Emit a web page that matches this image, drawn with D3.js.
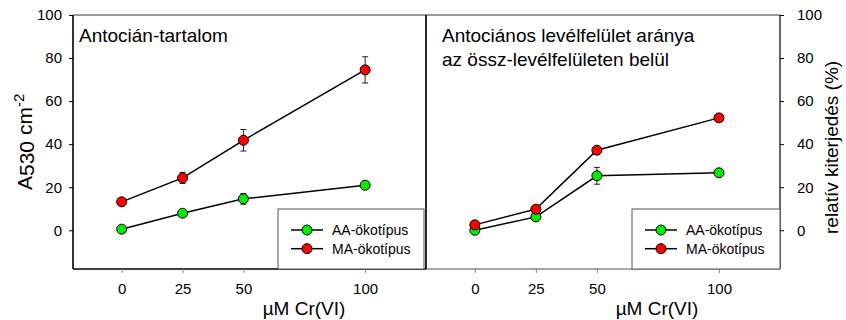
<!DOCTYPE html>
<html>
<head>
<meta charset="utf-8">
<script src="https://cdn.jsdelivr.net/npm/d3@7"></script>
<style>
  html, body { margin: 0; padding: 0; background: #fff; }
  svg { display: block; font-family: "Liberation Sans", Arial, sans-serif; }
</style>
</head>
<body>
<svg id="chart" width="846" height="320"></svg>
<script>
// Cr(VI) treatments (µM)
const doses = [0, 25, 50, 100];
const xTicks = [0, 25, 50, 100];
const yTicks = [0, 20, 40, 60, 80, 100];

// Anthocyanin content (A530 cm-2)
const contentAA = [0.5, 7.9, 14.6, 20.9];
const contentAAErr = [0.6, 0.8, 2.5, 0.8];
const contentMA = [13.2, 24.3, 41.8, 74.5];
const contentMAErr = [0.8, 2.6, 5.0, 6.1];

// Relative extent of anthocyanic leaf area (%)
const areaAA = [0.0, 6.2, 25.3, 26.7];
const areaAAErr = [0.5, 0.8, 3.9, 0.8];
const areaMA = [2.5, 9.8, 37.2, 52.2];
const areaMAErr = [0.5, 0.8, 1.0, 1.0];

const seriesNames = ["AA-ökotípus", "MA-ökotípus"];
const seriesColors = ["#00ee00", "#ff0000"];

const svg = d3.select("#chart");
const plotTop = 15, plotBottom = 269;
const y = d3.scaleLinear().domain([-18, 100]).range([plotBottom, plotTop]);

function panel(x0, x1, series, titleLines, opts) {
  const x = d3.scaleLinear().domain([-20, 125]).range([x0, x1]);
  const g = svg.append("g");

  // frame: grey top, coloured sides per panel
  g.append("line").attr("x1", x0).attr("x2", x1).attr("y1", plotTop).attr("y2", plotTop)
    .attr("stroke", "#7a7a7a").attr("stroke-width", 1.6);
  g.append("line").attr("x1", x0).attr("x2", x1).attr("y1", plotBottom).attr("y2", plotBottom)
    .attr("stroke", opts.bottomColor).attr("stroke-width", 1.4);
  g.append("line").attr("x1", x0).attr("x2", x0).attr("y1", plotTop).attr("y2", plotBottom)
    .attr("stroke", "#000").attr("stroke-width", opts.leftWidth);
  g.append("line").attr("x1", x1).attr("x2", x1).attr("y1", plotTop).attr("y2", plotBottom)
    .attr("stroke", "#000").attr("stroke-width", 1.2);

  // x ticks + labels
  const xa = g.append("g").attr("transform", `translate(0,${plotBottom})`)
    .call(d3.axisBottom(x).tickValues(xTicks).tickSize(4).tickPadding(10).tickFormat(d3.format("d")));
  xa.select(".domain").remove();
  xa.selectAll(".tick line").attr("stroke", "#888").attr("stroke-width", 1);
  xa.selectAll(".tick text").attr("font-size", 15).attr("fill", "#000")
    .attr("font-family", "Liberation Sans, Arial, sans-serif");

  g.append("text").attr("x", x0 + 231).attr("y", 315).attr("text-anchor", "middle")
    .attr("font-size", 19).text("µM Cr(VI)");

  // title
  titleLines.forEach((t, i) => {
    g.append("text").attr("x", opts.titleX).attr("y", 42 + i * 24)
      .attr("font-size", 19).text(t);
  });

  // legend box
  const lg = g.append("g");
  lg.append("rect").attr("x", opts.legendX).attr("y", 209)
    .attr("width", opts.legendW).attr("height", plotBottom - 209)
    .attr("fill", "#fff").attr("stroke", "#555").attr("stroke-width", 1);
  seriesNames.forEach((name, i) => {
    const ly = 230 + i * 18.7;
    const lx = opts.legendX + 13;
    lg.append("line").attr("x1", lx).attr("x2", lx + 32).attr("y1", ly).attr("y2", ly)
      .attr("stroke", "#000").attr("stroke-width", 1.5);
    lg.append("circle").attr("cx", lx + 16).attr("cy", ly).attr("r", 5)
      .attr("fill", seriesColors[i]).attr("stroke", "#000").attr("stroke-width", 1);
    lg.append("text").attr("x", lx + 41).attr("y", ly + 5).attr("font-size", 14).text(name);
  });

  // series
  const line = d3.line().x((d, i) => x(doses[i])).y(d => y(d));
  series.forEach((s, k) => {
    g.append("path").datum(s.values).attr("d", line)
      .attr("fill", "none").attr("stroke", "#000").attr("stroke-width", 1.5);
  });
  series.forEach((s, k) => {
    const eb = g.append("g").attr("stroke", "#222").attr("stroke-width", 1);
    s.values.forEach((v, i) => {
      const cx = x(doses[i]);
      const e = s.err[i];
      eb.append("line").attr("x1", cx).attr("x2", cx).attr("y1", y(v - e)).attr("y2", y(v + e));
      [v - e, v + e].forEach(w => {
        eb.append("line").attr("x1", cx - 3).attr("x2", cx + 3).attr("y1", y(w)).attr("y2", y(w));
      });
    });
    g.selectAll(null).data(s.values).enter().append("circle")
      .attr("cx", (d, i) => x(doses[i])).attr("cy", d => y(d)).attr("r", 5)
      .attr("fill", seriesColors[k]).attr("stroke", "#000").attr("stroke-width", 1);
  });
  return x;
}

panel(73, 426,
  [{ values: contentAA, err: contentAAErr }, { values: contentMA, err: contentMAErr }],
  ["Antocián-tartalom"],
  { bottomColor: "#000", leftWidth: 1.6, titleX: 79, legendX: 278, legendW: 146 });

panel(426, 780,
  [{ values: areaAA, err: areaAAErr }, { values: areaMA, err: areaMAErr }],
  ["Antociános levélfelület aránya", "az össz-levélfelületen belül"],
  { bottomColor: "#888", leftWidth: 1.2, titleX: 442, legendX: 632, legendW: 148 });

// left value axis
const yl = svg.append("g").attr("transform", "translate(73,0)")
  .call(d3.axisLeft(y).tickValues(yTicks).tickSize(4).tickPadding(7).tickFormat(d3.format("d")));
yl.select(".domain").remove();
yl.selectAll(".tick text").attr("font-size", 15).attr("font-family", "Liberation Sans, Arial, sans-serif");

// right value axis
const yr = svg.append("g").attr("transform", "translate(780,0)")
  .call(d3.axisRight(y).tickValues(yTicks).tickSize(4).tickPadding(13).tickFormat(d3.format("d")));
yr.select(".domain").remove();
yr.selectAll(".tick text").attr("font-size", 15).attr("font-family", "Liberation Sans, Arial, sans-serif");

// axis titles
const lt = svg.append("text").attr("transform", "translate(32,190) rotate(-90)")
  .attr("font-size", 21);
lt.append("tspan").text("A");
lt.append("tspan").attr("dy", 2).text("530");
lt.append("tspan").attr("dy", -2).text(" cm");
lt.append("tspan").attr("dy", -8).attr("font-size", 15).text("-2");

svg.append("text").attr("transform", "translate(838,234) rotate(-90)")
  .attr("font-size", 19).text("relatív kiterjedés (%)");
</script>
</body>
</html>
